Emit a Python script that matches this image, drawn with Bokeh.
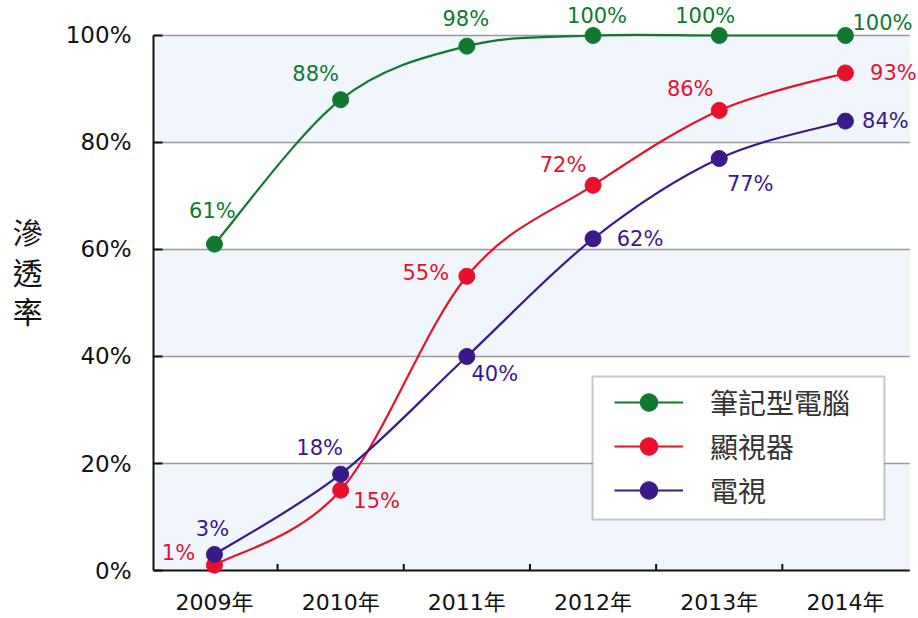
from bokeh.plotting import figure
from bokeh.models import (ColumnDataSource, FixedTicker, BoxAnnotation, Legend, LegendItem, Range1d)
from bokeh.core.properties import value
from bokeh.embed import file_html
from bokeh.resources import INLINE

# ---- data ----
years = [2009, 2010, 2011, 2012, 2013, 2014]
year_labels = ["2009年", "2010年", "2011年", "2012年", "2013年", "2014年"]
notebook = [61, 88, 98, 100, 100, 100]
monitor = [1, 15, 55, 72, 86, 93]
tv = [3, 18, 40, 62, 77, 84]
series_names = ["筆記型電腦", "顯視器", "電視"]
y_ticks = [0, 20, 40, 60, 80, 100]
y_title = "滲透率"

# ---- style ----
colors = ["#11782f", "#e8102c", "#3a1a8a"]
label_offsets = [
    [(-2, -33), (-25, -26), (-1, -27), (4, -19), (-14, -19), (37, -12)],
    [(-36, -12), (36, 11), (-41, -3), (-30, -20), (-29, -21), (48, 0)],
    [(-2, -25), (-21, -26), (28, 18), (47, 0), (31, 25), (40, 0)],
]
NUM_FONT = "DejaVu Sans, Noto Sans CJK TC"
CJK_FONT = "Noto Sans CJK TC"

X0, X1 = 2008.517, 2014.579
GRID_END = 2014.51
Y0, Y1 = -1.308, 105.98

p = figure(width=918, height=618, output_backend="svg", toolbar_location=None,
           x_range=Range1d(X0, X1), y_range=Range1d(Y0, Y1),
           min_border_left=153, min_border_right=0, min_border_top=3,
           min_border_bottom=41)
p.outline_line_color = None
p.background_fill_color = "white"
p.border_fill_color = "white"
p.xgrid.visible = False
p.ygrid.visible = False

# bands
for i in range(0, len(y_ticks) - 1, 2):
    p.add_layout(BoxAnnotation(bottom=y_ticks[i], top=y_ticks[i + 1], right=GRID_END,
                               fill_color="#f0f6fc", fill_alpha=1.0, line_color=None,
                               level="underlay"))

# grid lines
p.segment(x0=[X0] * (len(y_ticks) - 1), x1=[GRID_END] * (len(y_ticks) - 1),
          y0=y_ticks[1:], y1=y_ticks[1:], line_color="#9a9a9a", line_width=1.5)

# bottom spine and ticks between categories
p.segment(x0=[X0], x1=[GRID_END], y0=[0], y1=[0], line_color="#111111", line_width=2)
mids = [(a + b) / 2 for a, b in zip(years[:-1], years[1:])]
p.segment(x0=mids, x1=mids, y0=[0] * len(mids), y1=[1.2] * len(mids),
          line_color="#111111", line_width=2)

# axes
p.xaxis.ticker = FixedTicker(ticks=years)
p.xaxis.major_label_overrides = {y: l for y, l in zip(years, year_labels)}
p.xaxis.axis_line_color = None
p.xaxis.major_tick_line_color = None
p.xaxis.minor_tick_line_color = None
p.xaxis.major_label_standoff = 6
p.xaxis.major_label_text_font = NUM_FONT
p.xaxis.major_label_text_font_size = "22px"
p.xaxis.major_label_text_color = "#111111"

p.yaxis.ticker = FixedTicker(ticks=y_ticks)
p.yaxis.bounds = (0, 100)
p.yaxis.major_label_overrides = {t: f"{t}%" for t in y_ticks}
p.yaxis.axis_line_color = "#111111"
p.yaxis.axis_line_width = 2
p.yaxis.major_tick_line_color = "#111111"
p.yaxis.major_tick_line_width = 2
p.yaxis.major_tick_in = 9
p.yaxis.major_tick_out = 0
p.yaxis.minor_tick_line_color = None
p.yaxis.major_label_standoff = 22
p.yaxis.major_label_text_font = NUM_FONT
p.yaxis.major_label_text_font_size = "23px"
p.yaxis.major_label_text_color = "#111111"
p.yaxis.axis_label = "\n".join(y_title) + "\n"
p.yaxis.axis_label_orientation = "horizontal"
p.yaxis.axis_label_text_font = CJK_FONT
p.yaxis.axis_label_text_font_size = "30px"
p.yaxis.axis_label_text_font_style = "normal"
p.yaxis.axis_label_text_line_height = 0.9
p.yaxis.axis_label_text_color = "#111111"
p.yaxis.axis_label_standoff = 20


def smooth(xs, ys):
    n = len(xs)
    pts = list(zip(xs, ys))
    x0s, y0s, x1s, y1s, cx0, cy0, cx1, cy1 = [], [], [], [], [], [], [], []
    for i in range(n - 1):
        p0 = pts[i - 1] if i > 0 else pts[i]
        p1 = pts[i]
        p2 = pts[i + 1]
        p3 = pts[i + 2] if i + 2 < n else pts[i + 1]
        x0s.append(p1[0]); y0s.append(p1[1])
        x1s.append(p2[0]); y1s.append(p2[1])
        cx0.append(p1[0] + (p2[0] - p0[0]) / 6); cy0.append(p1[1] + (p2[1] - p0[1]) / 6)
        cx1.append(p2[0] - (p3[0] - p1[0]) / 6); cy1.append(p2[1] - (p3[1] - p1[1]) / 6)
    return dict(x0=x0s, y0=y0s, x1=x1s, y1=y1s, cx0=cx0, cy0=cy0, cx1=cx1, cy1=cy1)


items = []
for name, vals, col, offs in zip(series_names, [notebook, monitor, tv], colors, label_offsets):
    bz = ColumnDataSource(smooth(years, vals))
    ln = p.bezier(x0="x0", y0="y0", x1="x1", y1="y1", cx0="cx0", cy0="cy0",
                  cx1="cx1", cy1="cy1", source=bz, line_color=col, line_width=2.2)
    src = ColumnDataSource(dict(x=years, y=vals, t=[f"{v}%" for v in vals],
                                dx=[o[0] for o in offs], dy=[o[1] for o in offs]))
    sc = p.scatter(x="x", y="y", source=src, size=16, fill_color=col, line_color=col)
    p.text(x="x", y="y", text="t", source=src, x_offset="dx", y_offset="dy",
           text_align="center", text_baseline="middle", text_color=col,
           text_font=value(NUM_FONT), text_font_size="21px")
    items.append((name, ln, sc, col))

# legend box
p.add_layout(BoxAnnotation(left=2011.996, right=2014.309, bottom=9.53, top=36.26,
                           fill_color="white", fill_alpha=1.0, line_color="#444444",
                           line_width=2))

# legend proxies
legend_items = []
for name, ln, sc, col in items:
    lr = p.line(x=[years[0]], y=[-50], line_color=col, line_width=2)
    sr = p.scatter(x=[years[0]], y=[-50], size=16, fill_color=col, line_color=col)
    legend_items.append(LegendItem(label=name, renderers=[lr, sr]))

legend = Legend(items=legend_items, location=(461, 65), orientation="vertical",
                padding=5, spacing=0, margin=0, glyph_width=69, glyph_height=44,
                label_height=44, label_standoff=27, border_line_color=None,
                background_fill_alpha=0, label_text_font=CJK_FONT,
                label_text_font_size="28px", label_text_color="#333333")
p.add_layout(legend, "center")

open("out.html", "w").write(file_html(p, INLINE))
